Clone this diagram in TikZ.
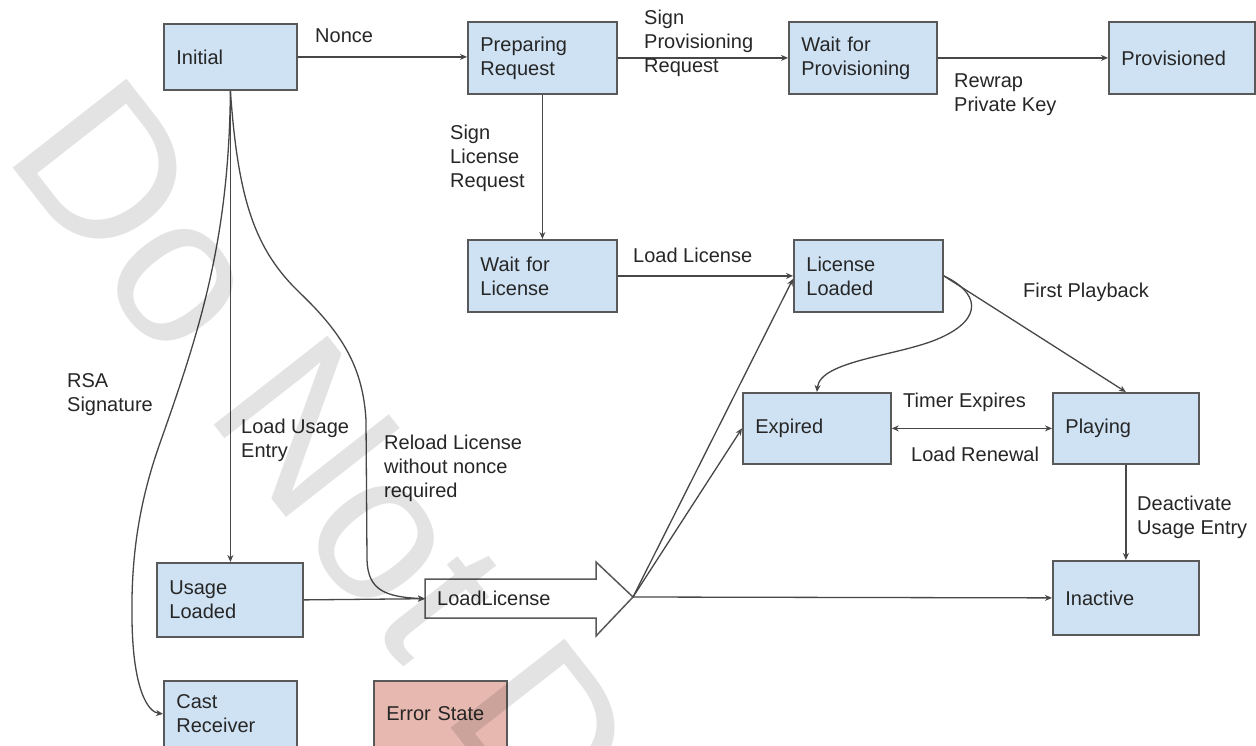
\documentclass[tikz,border=0pt]{standalone}
\usepackage{fontspec}
\setmainfont{Liberation Sans}
\usetikzlibrary{arrows.meta,calc}
\definecolor{boxfill}{HTML}{CFE2F3}
\definecolor{errfill}{HTML}{E6B8AF}
\definecolor{boxline}{HTML}{595959}
\definecolor{conn}{HTML}{474747}
\definecolor{txt}{HTML}{262626}
\begin{document}
\begin{tikzpicture}[x=1pt,y=-1pt,
  st/.style={draw=boxline, line width=1.8pt, fill=boxfill, text=txt, inner xsep=12.5pt, inner ysep=0pt, anchor=north west, align=left, font=\fontsize{20}{24}\selectfont},
  lbl/.style={text=txt, inner sep=0pt, anchor=west, align=left, font=\fontsize{20}{24}\selectfont},
  arr/.style={draw=conn, line width=1.3pt, -{Stealth[length=7pt,width=6pt]}},
  darr/.style={draw=conn, line width=1.3pt, {Stealth[length=7pt,width=6pt]}-{Stealth[length=7pt,width=6pt]}},
]
\useasboundingbox (0,0) rectangle (1256,746);
\fill[white] (0,0) rectangle (1256,746);

% states
\node[st, text width=108pt, minimum height=66pt] (init) at (163,23) {Initial};
\node[st, text width=124pt, minimum height=72pt] (prep) at (467,21) {Preparing\\Request};
\node[st, text width=123pt, minimum height=72pt] (wfp) at (788,21) {Wait for\\Provisioning};
\node[st, text width=121pt, minimum height=72pt] (prov) at (1108,21) {Provisioned};
\node[st, text width=124pt, minimum height=72pt] (wfl) at (467,239) {Wait for\\License};
\node[st, text width=124pt, minimum height=72pt] (ll) at (793,239) {License\\Loaded};
\node[st, text width=123pt, minimum height=71pt] (exp) at (742,392) {Expired};
\node[st, text width=121pt, minimum height=71pt] (play) at (1052,392) {Playing};
\node[st, text width=121pt, minimum height=74pt] (inact) at (1052,560) {Inactive};
\node[st, text width=121pt, minimum height=74pt] (ul) at (156,562) {Usage\\Loaded};
\node[st, text width=108pt, minimum height=66pt] (cast) at (163,680) {Cast\\Receiver};
\node[st, fill=errfill, text width=108pt, minimum height=66pt] (err) at (373,680) {Error State};

% LoadLicense block arrow
\coordinate (tip) at (633,597);
\draw[draw=boxline, line width=1.5pt, fill=white, line join=miter]
  (425,579) -- (596,579) -- (596,562) -- (tip) -- (596,636) -- (596,618) -- (425,618) -- cycle;
\node[anchor=north west, minimum width=171pt, minimum height=39pt, inner xsep=12pt, inner ysep=0pt,
  text=txt, align=left, text width=147pt, font=\fontsize{20}{24}\selectfont] (lic) at (425,579) {LoadLicense};

% connectors
\draw[arr] (init.east) -- (init.east -| prep.west);
\draw[arr] (prep.east) -- (wfp.west);
\draw[arr] (wfp.east) -- (prov.west);
\draw[arr] (prep.south) -- (wfl.north);
\draw[arr] (wfl.east) -- (ll.west);
\draw[arr] (ll.east) -- (play.north);
\draw[arr] (ll.east) .. controls (978,292) and (985,318) .. (940,338)
  .. controls (900,356) and (820,360) .. (exp.north);
\draw[darr] (exp.east) -- (play.west);
\draw[arr] (play.south) -- (inact.north);
\draw[arr] (init.south) -- (init.south |- ul.north);
\draw[arr] (init.south) .. controls (229,240) and (200,330) .. (160,443)
  .. controls (138,505) and (131,560) .. (132,620)
  .. controls (133,690) and (148,712) .. (cast.west);
\draw[arr] (init.south) .. controls (238,200) and (255,250) .. (300,293)
  .. controls (345,336) and (363,370) .. (366,420) -- (367,560)
  .. controls (368,590) and (385,597) .. (lic.west);
\draw[arr] (ul.east) -- (lic.west);
\draw[arr] (tip) -- ([yshift=-3pt]ll.west);
\draw[arr] (tip) -- (exp.west);
\draw[arr] (tip) -- (inact.west);

% labels
\node[lbl] (lnonce) at (315,36) {Nonce};
\node[lbl] (lsignprov) at (644,43) {Sign\\Provisioning\\Request};
\node[lbl] (lrewrap) at (954,95) {Rewrap\\Private Key};
\node[lbl] (lsignlic) at (450,158) {Sign\\License\\Request};
\node[lbl] (lloadlic) at (633,255) {Load License};
\node[lbl] (lfirst) at (1023,292) {First Playback};
\node[lbl] (ltimer) at (903,402) {Timer Expires};
\node[lbl] (lrenew) at (911,454) {Load Renewal};
\node[lbl] (ldeact) at (1137,517) {Deactivate\\Usage Entry};
\node[lbl] (lrsa) at (67,395) {RSA\\Signature};
\node[lbl] (lusage) at (241,440) {Load Usage\\Entry};
\node[lbl] (lreload) at (384,468) {Reload License\\without nonce\\required};

% watermark
\begin{scope}
\clip (0,0) rectangle (1256,746);
\node[rotate=-52, anchor=base west, inner sep=0pt, text=black, text opacity=0.11,
  font=\fontsize{210}{210}\selectfont] (wm) at (2,154) {Do Not Distribute};
\end{scope}
\end{tikzpicture}
\end{document}
